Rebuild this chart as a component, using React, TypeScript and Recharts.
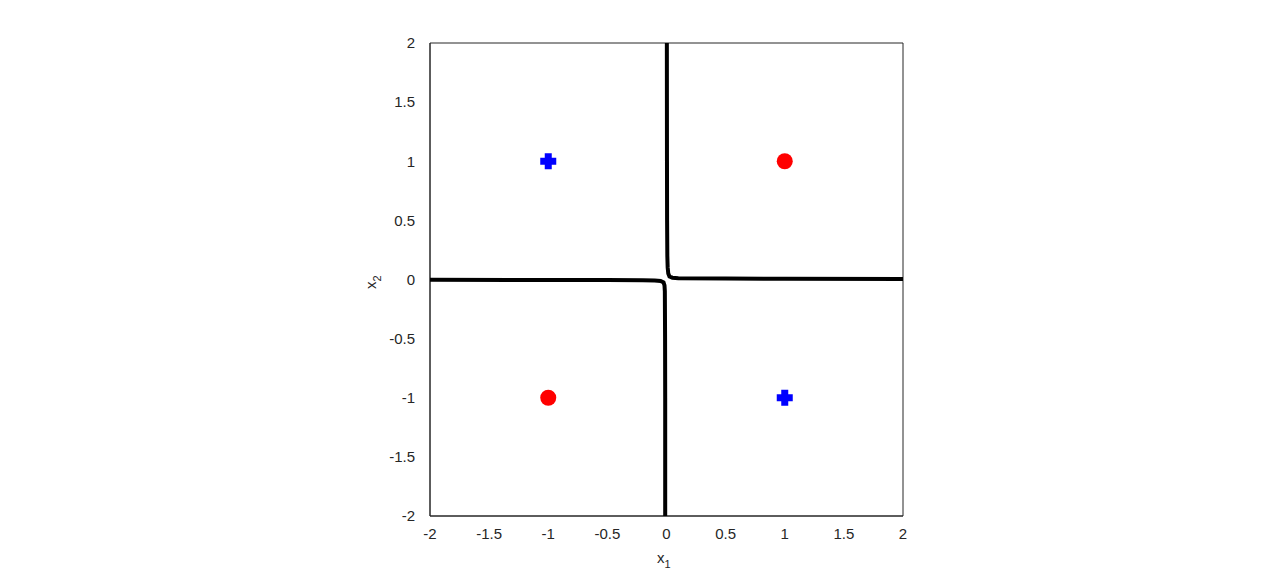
import React from 'react';
import { ScatterChart, Scatter, XAxis, YAxis } from 'recharts';

const tickValues = [-2, -1.5, -1, -0.5, 0, 0.5, 1, 1.5, 2];
const axisDomain = [-2, 2];

const classCircle = [
  { x: 1, y: 1 },
  { x: -1, y: -1 },
];
const classPlus = [
  { x: -1, y: 1 },
  { x: 1, y: -1 },
];
const boundaryUpper = [
  { x: 0.003, y: 2 },
  { x: 0.004, y: 1 },
  { x: 0.005, y: 0.5 },
  { x: 0.007, y: 0.2 },
  { x: 0.01, y: 0.1 },
  { x: 0.015, y: 0.05 },
  { x: 0.025, y: 0.025 },
  { x: 0.05, y: 0.015 },
  { x: 0.1, y: 0.011 },
  { x: 0.5, y: 0.008 },
  { x: 1, y: 0.006 },
  { x: 2, y: 0.005 },
];
const boundaryLower = [
  { x: -2, y: -0.003 },
  { x: -1, y: -0.004 },
  { x: -0.5, y: -0.005 },
  { x: -0.2, y: -0.007 },
  { x: -0.1, y: -0.009 },
  { x: -0.05, y: -0.013 },
  { x: -0.025, y: -0.025 },
  { x: -0.017, y: -0.05 },
  { x: -0.014, y: -0.1 },
  { x: -0.012, y: -0.5 },
  { x: -0.011, y: -1 },
  { x: -0.011, y: -2 },
];

const FONT = '"Liberation Sans", Arial, Helvetica, sans-serif';
const AXIS_COLOR = '#262626';

const CircleShape = (props: any) => {
  const { cx, cy } = props;
  return <circle cx={cx} cy={cy} r={8} fill="#ff0000" />;
};

const PlusShape = (props: any) => {
  const { cx, cy } = props;
  const a = 8;
  const t = 3.5;
  const d = `M${cx - t},${cy - a} H${cx + t} V${cy - t} H${cx + a} V${cy + t} H${cx + t} V${cy + a} H${cx - t} V${cy + t} H${cx - a} V${cy - t} H${cx - t} Z`;
  return <path d={d} fill="#0000ff" />;
};

const NoShape = () => null;

const tickStyle = { fontFamily: FONT, fontSize: 15, fill: AXIS_COLOR };

const commonAxis = {
  type: 'number' as const,
  domain: axisDomain,
  ticks: tickValues,
  allowDataOverflow: true,
  stroke: AXIS_COLOR,
  interval: 0 as const,
};

export default function App() {
  return (
    <div style={{ position: 'absolute', left: 0, top: 0, width: 1288, height: 580, background: '#fff' }}>
      <ScatterChart
        width={1288}
        height={580}
        margin={{ top: 43, right: 385, left: 370, bottom: 34 }}
      >
        <XAxis
          {...commonAxis}
          xAxisId="b"
          dataKey="x"
          orientation="bottom"
          height={30}
          tickLine={false}
          tickMargin={6}
          tick={tickStyle}
        />
        <XAxis
          {...commonAxis}
          xAxisId="bm"
          dataKey="x"
          orientation="bottom"
          mirror
          tickSize={5}
          tick={false}
        />
        <XAxis
          {...commonAxis}
          xAxisId="t"
          dataKey="x"
          orientation="top"
          mirror
          tickSize={5}
          tick={false}
        />
        <YAxis
          {...commonAxis}
          yAxisId="l"
          dataKey="y"
          orientation="left"
          width={60}
          tickLine={false}
          tickMargin={9}
          tick={tickStyle}
        />
        <YAxis
          {...commonAxis}
          yAxisId="lm"
          dataKey="y"
          orientation="left"
          mirror
          tickSize={5}
          tick={false}
        />
        <YAxis
          {...commonAxis}
          yAxisId="r"
          dataKey="y"
          orientation="right"
          mirror
          tickSize={5}
          tick={false}
        />
        <Scatter
          xAxisId="b"
          yAxisId="l"
          data={boundaryUpper}
          line={{ stroke: '#000', strokeWidth: 4 }}
          lineType="joint"
          shape={NoShape}
          isAnimationActive={false}
        />
        <Scatter
          xAxisId="b"
          yAxisId="l"
          data={boundaryLower}
          line={{ stroke: '#000', strokeWidth: 4 }}
          lineType="joint"
          shape={NoShape}
          isAnimationActive={false}
        />
        <Scatter xAxisId="b" yAxisId="l" data={classPlus} shape={PlusShape} isAnimationActive={false} />
        <Scatter xAxisId="b" yAxisId="l" data={classCircle} shape={CircleShape} isAnimationActive={false} />
      </ScatterChart>
      <svg
        width={1288}
        height={580}
        style={{ position: 'absolute', left: 0, top: 0, pointerEvents: 'none' }}
      >
        <text x={657} y={563} fontFamily={FONT} fontSize={15} fill={AXIS_COLOR}>
          x<tspan dy={5} fontSize={11}>1</tspan>
        </text>
        <text
          x={0}
          y={0}
          fontFamily={FONT}
          fontSize={15}
          fill={AXIS_COLOR}
          transform="translate(376,289) rotate(-90)"
        >
          x<tspan dy={5} fontSize={11}>2</tspan>
        </text>
      </svg>
    </div>
  );
}
